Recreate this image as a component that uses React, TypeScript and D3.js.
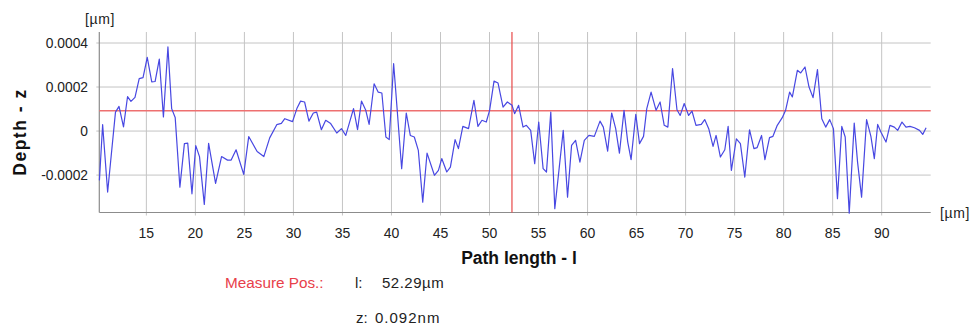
import React from "react";
import * as d3 from "d3";

// Path length (µm)
const pathLength = [10.21,10.54,11.05,11.85,12.21,12.67,13.08,13.43,13.84,14.27,
14.66,15.09,15.55,15.89,16.32,16.74,17.20,17.58,17.94,18.42,
18.88,19.22,19.65,20.04,20.42,20.91,21.35,22.06,22.67,23.28,
23.65,24.15,24.93,25.44,26.30,26.98,27.58,28.30,28.77,29.12,
29.91,30.35,30.73,31.14,31.58,32.03,32.37,32.85,33.29,33.80,
34.42,34.90,35.34,36.13,36.54,36.94,37.38,37.72,38.23,38.64,
39.02,39.43,39.77,40.22,40.38,41.04,41.51,41.92,42.33,42.74,
43.19,43.63,44.38,44.79,45.13,45.64,46.01,46.49,46.83,47.28,
47.86,48.41,48.82,49.23,49.67,50.01,50.46,50.87,51.38,51.82,
52.30,52.56,52.97,53.42,53.76,54.20,54.61,55.02,55.47,55.81,
56.25,56.66,57.52,57.96,58.37,58.78,59.22,59.67,60.14,60.69,
61.27,61.61,62.05,62.46,62.87,63.25,63.72,64.10,64.44,64.92,
65.30,65.71,66.04,66.48,66.99,67.40,67.82,68.19,68.67,69.12,
69.45,69.86,70.31,70.65,71.06,71.60,71.95,72.36,72.80,73.11,
73.55,74.00,74.34,74.67,75.18,75.59,76.04,76.52,76.97,77.30,
77.75,78.09,78.56,78.91,79.35,79.86,80.20,80.61,80.89,81.40,
81.74,82.18,82.59,83.00,83.45,83.89,84.29,84.70,85.08,85.49,
85.93,86.28,86.69,87.20,87.54,87.95,88.46,88.90,89.25,89.59,
89.93,90.44,90.84,91.29,91.63,92.07,92.48,92.89,93.34,93.86,
94.19,94.53];

// Depth in pm (1e-6 µm)
const depthPm = [-224,29,-277,86,112,19,156,135,153,238,
243,335,223,225,327,64,382,102,62,-255,
-57,-55,-285,-66,-116,-333,-56,-238,-116,-132,
-132,-85,-197,-25,-93,-116,-31,29,35,56,
43,102,136,132,45,82,86,6,49,34,
-9,11,-20,102,6,136,94,30,215,177,
173,-27,-39,306,215,-171,82,-20,-27,-88,
-323,-100,-201,-179,-125,-186,-164,-39,-80,21,
11,140,21,49,41,94,227,218,109,132,
117,79,117,18,26,3,-148,41,-171,-186,
86,-353,3,-300,-65,-42,-141,-42,-20,-24,
45,18,-91,82,11,-100,94,-50,-130,76,
-57,-24,102,177,94,132,26,18,284,97,
71,125,71,91,26,30,52,11,-70,-20,
-118,-85,21,-179,-35,-57,-209,6,-80,-75,
-20,-130,-30,-24,26,61,94,177,155,276,
264,291,200,152,279,56,18,52,11,-307,
21,-27,-373,36,-141,-300,52,-24,-125,30,
-5,-50,26,18,3,41,18,21,15,3,
-15,15];

const xTicks = [15,20,25,30,35,40,45,50,55,60,65,70,75,80,85,90];
const yTicks = [0.0004,0.0002,0,-0.0002];
const yTickLabels = ["0.0004","0.0002","0","-0.0002"];
const measureL = 52.29;
const measureZ = 0.000092;

const FONT = "'Liberation Sans', Arial, sans-serif";

export default function App() {
  const left = 99.3, right = 930.7, top = 32, bottom = 212.5;
  const x = d3.scaleLinear().domain([10.2, 95]).range([left, right]);
  const y = d3.scaleLinear().domain([-0.00037, 0.00045]).range([bottom, top]);
  const pts = pathLength.map((l, i) => [l, depthPm[i] * 1e-6] as [number, number]);
  const line = d3.line<[number, number]>().x(d => x(d[0])).y(d => y(d[1]));

  return (
    <svg width={973} height={331} style={{ position: "absolute", left: 0, top: 0, background: "#fff" }}>
      {/* grid */}
      {xTicks.map(t => (
        <line key={"gx" + t} x1={x(t)} x2={x(t)} y1={top} y2={bottom + 3} stroke="#c4c4c4" strokeWidth={1} />
      ))}
      {yTicks.map(t => (
        <line key={"gy" + t} x1={left - 3} x2={right} y1={y(t)} y2={y(t)} stroke="#c4c4c4" strokeWidth={1} />
      ))}
      {/* axes */}
      <line x1={left} x2={left} y1={top} y2={bottom} stroke="#8c8c8c" strokeWidth={1.2} />
      <line x1={left} x2={right} y1={bottom} y2={bottom} stroke="#8c8c8c" strokeWidth={1.2} />
      {/* measure lines */}
      <line x1={left} x2={right} y1={y(measureZ)} y2={y(measureZ)} stroke="#ee7070" strokeWidth={1.4} />
      <line x1={x(measureL)} x2={x(measureL)} y1={top} y2={bottom} stroke="#e84848" strokeWidth={1.2} />
      {/* profile */}
      <path d={line(pts) || ""} fill="none" stroke="#4848e2" strokeWidth={1.2} strokeLinejoin="round" />
      {/* tick labels */}
      {yTicks.map((t, i) => (
        <text key={"ty" + t} x={88} y={y(t) + 5} textAnchor="end" fontFamily={FONT} fontSize={13.8} fill="#222">
          {yTickLabels[i]}
        </text>
      ))}
      {xTicks.map(t => (
        <text key={"tx" + t} x={x(t)} y={238} textAnchor="middle" fontFamily={FONT} fontSize={14} fill="#222">
          {t}
        </text>
      ))}
      {/* units */}
      <text x={85} y={24} fontFamily={FONT} fontSize={14} letterSpacing={0.6} fill="#222">[µm]</text>
      <text x={940} y={217.5} fontFamily={FONT} fontSize={14} letterSpacing={0.6} fill="#222">[µm]</text>
      {/* axis titles */}
      <text transform="translate(26,132) rotate(-90)" textAnchor="middle" fontFamily={FONT} fontSize={17.5} fontWeight="bold" letterSpacing={1.5} fill="#111">
        Depth - z
      </text>
      <text x={519} y={264} textAnchor="middle" fontFamily={FONT} fontSize={17.5} fontWeight="bold" fill="#111">
        Path length - l
      </text>
      {/* measure readout */}
      <text x={225} y={288} fontFamily={FONT} fontSize={15.3} fill="#e8404a">Measure Pos.:</text>
      <text x={355} y={288} fontFamily={FONT} fontSize={15} fill="#222">l:</text>
      <text x={382} y={288} fontFamily={FONT} fontSize={15} letterSpacing={0.5} fill="#222">52.29µm</text>
      <text x={356} y={323} fontFamily={FONT} fontSize={15} fill="#222">z:</text>
      <text x={375} y={323} fontFamily={FONT} fontSize={15} letterSpacing={1} fill="#222">0.092nm</text>
    </svg>
  );
}
